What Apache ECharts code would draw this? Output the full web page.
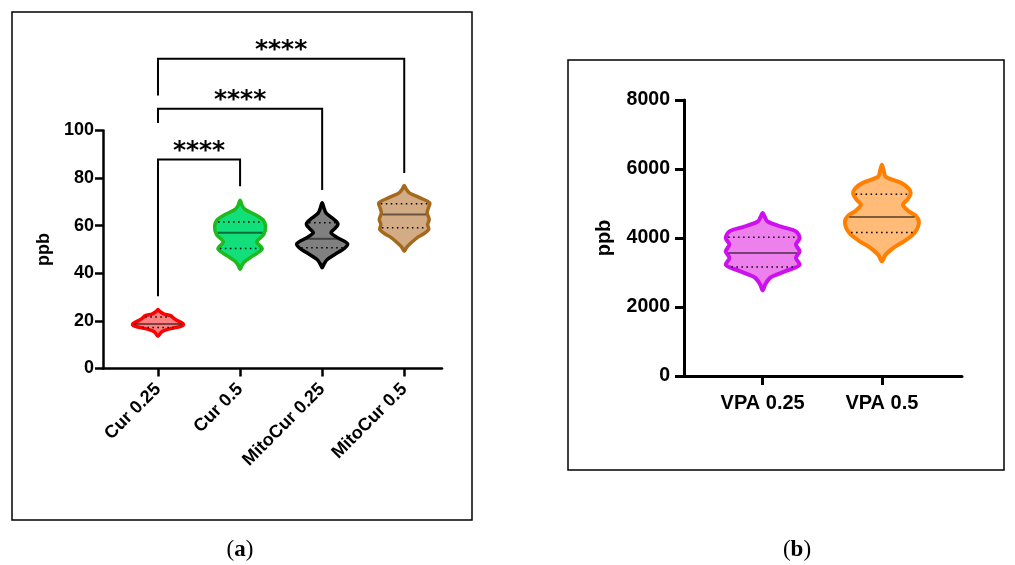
<!DOCTYPE html>
<html>
<head>
<meta charset="utf-8">
<script src="https://cdn.jsdelivr.net/npm/echarts@6/dist/echarts.min.js"></script>
<style>
  html, body { margin: 0; padding: 0; background: #fff; }
  #chart { width: 1015px; height: 565px; }
</style>
</head>
<body>
<div id="chart"></div>
<script>
// ---- Panel (a): curcumin groups ----
const catsA = ['Cur 0.25', 'Cur 0.5', 'MitoCur 0.25', 'MitoCur 0.5'];
const medianA = [18.7, 57.0, 54.5, 64.7];
const q1A = [17.2, 50.4, 50.7, 59.1];
const q3A = [21.6, 61.6, 61.2, 69.2];
// violin outlines: [ppb, relative density]
const profileCur025 = [[24.8, 0], [24.0, 0.07], [23.0, 0.22], [22.2, 0.5], [21.3, 0.6], [20.4, 0.72], [19.4, 0.9], [18.6, 1.0], [17.8, 0.92], [17.0, 0.6], [16.2, 0.32], [15.2, 0.12], [13.6, 0]];
const profileCur05 = [[70.7, 0], [68.5, 0.08], [66.8, 0.2], [64.5, 0.62], [62.5, 0.9], [59.8, 1.0], [56.3, 0.93], [53.2, 0.66], [50.3, 0.87], [47.3, 0.5], [45.1, 0.2], [43.5, 0.08], [41.6, 0]];
const profileMito025 = [[69.6, 0], [67.5, 0.07], [65.4, 0.15], [63.2, 0.4], [60.8, 0.62], [58.8, 0.5], [57.0, 0.35], [55.0, 0.6], [52.4, 1.0], [50.5, 0.88], [48.6, 0.6], [45.8, 0.2], [44.0, 0.08], [42.3, 0]];
const profileMito05 = [[76.9, 0], [75.3, 0.08], [73.8, 0.2], [71.8, 0.6], [69.6, 1.0], [67.5, 0.95], [65.4, 0.9], [62.6, 0.98], [60.5, 0.92], [58.4, 0.96], [56.5, 0.75], [54.9, 0.5], [52.1, 0.2], [50.7, 0.08], [49.3, 0]];
const profilesA = [profileCur025, profileCur05, profileMito025, profileMito05];
const fillA = ['#FF8080', '#12DE7A', '#808080', '#D3AC86'];
const strokeA = ['#FF0000', '#1DB91D', '#000000', '#A4691C'];
const ticksA = [0, 20, 40, 60, 80, 100];

// significance brackets (panel a)
const sigFrom = [0, 0, 0];
const sigTo = [1, 2, 3];
const sigTop = [87.8, 109.1, 130.1];
const sigLeftEnd = [30.4, 103.2, 114.7];
const sigRightEnd = [76.6, 75.0, 82.1];
const sigText = ['****', '****', '****'];

// ---- Panel (b): VPA groups ----
const catsB = ['VPA 0.25', 'VPA 0.5'];
const medianB = [3567, 4608];
const q1B = [3163, 4160];
const q3B = [4019, 5270];
const profileVpa025 = [[4724, 0], [4600, 0.06], [4481, 0.13], [4330, 0.5], [4192, 0.9], [4001, 1.0], [3808, 0.9], [3614, 1.0], [3423, 0.9], [3229, 1.0], [3130, 0.85], [3036, 0.6], [2940, 0.38], [2845, 0.2], [2660, 0.07], [2478, 0]];
const profileVpa05 = [[6121, 0], [5950, 0.05], [5782, 0.1], [5590, 0.53], [5440, 0.72], [5302, 0.78], [5130, 0.7], [4964, 0.57], [4800, 0.7], [4640, 0.92], [4481, 1.0], [4300, 0.97], [4146, 0.88], [4020, 0.75], [3903, 0.6], [3780, 0.4], [3663, 0.25], [3500, 0.09], [3325, 0]];
const profilesB = [profileVpa025, profileVpa05];
const fillB = ['#EE80EE', '#FFBB77'];
const strokeB = ['#CC11EE', '#FF8000'];
const ticksB = [0, 2000, 4000, 6000, 8000];

const FONT = 'Liberation Sans, Arial, sans-serif';
const WIDTH_FRAC = 0.31;

function densityAt(profile, v) {
  for (let k = 0; k < profile.length - 1; k++) {
    const a = profile[k], b = profile[k + 1];
    if ((v <= a[0] && v >= b[0])) {
      const t = (a[0] - v) / (a[0] - b[0]);
      return a[1] + (b[1] - a[1]) * t;
    }
  }
  return 0;
}

function violinRenderer(profiles, fills, strokes, lw) {
  return function (params, api) {
    const i = params.dataIndex;
    const x = api.value(0);
    const med = api.value(1), q1 = api.value(2), q3 = api.value(3);
    const prof = profiles[i];
    const halfW = api.size([1, 0])[0] * WIDTH_FRAC;
    const right = prof.map(([v, d]) => { const p = api.coord([x, v]); return [p[0] + d * halfW, p[1]]; });
    const left = prof.slice().reverse().map(([v, d]) => { const p = api.coord([x, v]); return [p[0] - d * halfW, p[1]]; });
    const pts = right.concat(left.slice(1, -1));
    const children = [{
      type: 'polygon',
      shape: { points: pts, smooth: 0.3 },
      style: { fill: fills[i], stroke: strokes[i], lineWidth: lw, lineJoin: 'round' }
    }];
    const hline = (v, style) => {
      const c = api.coord([x, v]);
      const w = densityAt(prof, v) * halfW - lw / 2;
      children.push({ type: 'line', shape: { x1: c[0] - w, y1: c[1], x2: c[0] + w, y2: c[1] }, style: style });
    };
    hline(q3, { stroke: '#000', lineWidth: 1.5, lineDash: [1.5, 3.5] });
    hline(q1, { stroke: '#000', lineWidth: 1.5, lineDash: [1.5, 3.5] });
    hline(med, { stroke: 'rgba(0,0,0,0.5)', lineWidth: 2 });
    return { type: 'group', children: children };
  };
}

function bracketRenderer(params, api) {
  const i = params.dataIndex;
  const a = sigFrom[i], b = sigTo[i];
  const p1 = api.coord([a, sigLeftEnd[i]]);
  const p2 = api.coord([a, sigTop[i]]);
  const p3 = api.coord([b, sigTop[i]]);
  const p4 = api.coord([b, sigRightEnd[i]]);
  return {
    type: 'group',
    children: [
      { type: 'polyline', shape: { points: [p1, p2, p3, p4] }, style: { stroke: '#000', lineWidth: 2, fill: null } },
      { type: 'text', x: (p2[0] + p3[0]) / 2, y: p2[1] + 4,
        style: { text: sigText[i], font: 'bold 25px DejaVu Sans', fill: '#000', align: 'center', verticalAlign: 'bottom' } }
    ]
  };
}

const chart = echarts.init(document.getElementById('chart'), null, { renderer: 'canvas' });

const axisLineA = { show: true, onZero: false, lineStyle: { color: '#000', width: 2.5 } };
const axisLineB = { show: true, onZero: false, lineStyle: { color: '#000', width: 3 } };
const plain = v => String(v);

chart.setOption({
  animation: false,
  backgroundColor: '#fff',
  grid: [
    { left: 103, top: 130.5, width: 339, height: 238 },
    { left: 684, top: 100, width: 278, height: 276 }
  ],
  xAxis: [
    {
      gridIndex: 0, type: 'value', min: -0.67, max: 3.46,
      axisLine: axisLineA,
      axisTick: { show: true, length: 8, customValues: [0, 1, 2, 3], lineStyle: { color: '#000', width: 2.5 } },
      axisLabel: { customValues: [0, 1, 2, 3], formatter: v => catsA[Math.round(v)], rotate: 45, margin: 18,
        color: '#000', fontFamily: FONT, fontWeight: 'bold', fontSize: 18 },
      splitLine: { show: false }
    },
    {
      gridIndex: 1, type: 'value', min: -0.66, max: 1.672,
      axisLine: axisLineB,
      axisTick: { show: true, length: 9, customValues: [0, 1], lineStyle: { color: '#000', width: 3 } },
      axisLabel: { customValues: [0, 1], formatter: v => catsB[Math.round(v)], margin: 17,
        color: '#000', fontFamily: FONT, fontWeight: 'bold', fontSize: 20 },
      splitLine: { show: false }
    }
  ],
  yAxis: [
    {
      gridIndex: 0, type: 'value', min: 0, max: 100, interval: 20,
      name: 'ppb', nameLocation: 'middle', nameGap: 50,
      nameTextStyle: { color: '#000', fontFamily: FONT, fontWeight: 'bold', fontSize: 18 },
      axisLine: axisLineA,
      axisTick: { show: true, length: 8, lineStyle: { color: '#000', width: 2.5 } },
      axisLabel: { customValues: ticksA, formatter: plain, margin: 9, color: '#000', fontFamily: FONT, fontWeight: 'bold', fontSize: 18 },
      splitLine: { show: false }
    },
    {
      gridIndex: 1, type: 'value', min: 0, max: 8000, interval: 2000,
      name: 'ppb', nameLocation: 'middle', nameGap: 70,
      nameTextStyle: { color: '#000', fontFamily: FONT, fontWeight: 'bold', fontSize: 20 },
      axisLine: axisLineB,
      axisTick: { show: true, length: 9, lineStyle: { color: '#000', width: 3 } },
      axisLabel: { customValues: ticksB, formatter: plain, margin: 14, color: '#000', fontFamily: FONT, fontWeight: 'bold', fontSize: 19.5 },
      splitLine: { show: false }
    }
  ],
  series: [
    {
      type: 'custom', xAxisIndex: 0, yAxisIndex: 0, clip: false,
      data: catsA.map((c, i) => [i, medianA[i], q1A[i], q3A[i]]),
      renderItem: violinRenderer(profilesA, fillA, strokeA, 3.5)
    },
    {
      type: 'custom', xAxisIndex: 0, yAxisIndex: 0, clip: false,
      data: sigFrom.map((f, i) => [f, sigTop[i]]),
      renderItem: bracketRenderer
    },
    {
      type: 'custom', xAxisIndex: 1, yAxisIndex: 1, clip: false,
      data: catsB.map((c, i) => [i, medianB[i], q1B[i], q3B[i]]),
      renderItem: violinRenderer(profilesB, fillB, strokeB, 4)
    }
  ],
  graphic: [
    { type: 'rect', shape: { x: 12, y: 12, width: 460, height: 508 }, style: { fill: null, stroke: '#000', lineWidth: 1.5 } },
    { type: 'rect', shape: { x: 568, y: 60, width: 436, height: 410 }, style: { fill: null, stroke: '#000', lineWidth: 1.5 } },
    { type: 'text', x: 240, y: 550, style: {
        text: '({b|a})', align: 'center', verticalAlign: 'middle',
        font: '23px Liberation Serif', fill: '#000',
        rich: { b: { fontFamily: 'Liberation Serif', fontWeight: 'bold', fontSize: 23 } } } },
    { type: 'text', x: 797, y: 550, style: {
        text: '({b|b})', align: 'center', verticalAlign: 'middle',
        font: '23px Liberation Serif', fill: '#000',
        rich: { b: { fontFamily: 'Liberation Serif', fontWeight: 'bold', fontSize: 23 } } } }
  ]
});
</script>
</body>
</html>
